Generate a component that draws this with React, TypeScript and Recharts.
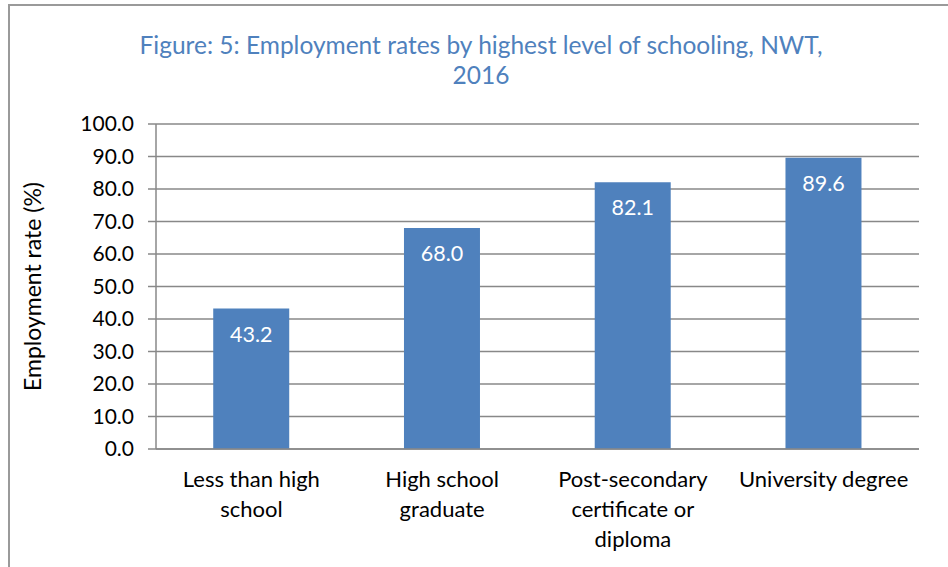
import React from 'react';
import { BarChart, Bar, XAxis, YAxis, CartesianGrid, LabelList } from 'recharts';

const categories = ['Less than high school', 'High school graduate', 'Post-secondary certificate or diploma', 'University degree'];
const categoryLines = [
  ['Less than high', 'school'],
  ['High school', 'graduate'],
  ['Post-secondary', 'certificate or', 'diploma'],
  ['University degree'],
];
const rates = [43.2, 68.0, 82.1, 89.6];
const yTicks = [0, 10, 20, 30, 40, 50, 60, 70, 80, 90, 100];
const boundaryTicks = [0, 1, 2, 3, 4];
const titleLines = ['Figure: 5: Employment rates by highest level of schooling, NWT,', '2016'];
const yLabel = 'Employment rate (%)';

const data = categories.map((c, i) => ({ category: c, rate: rates[i], lines: categoryLines[i] }));

const FONT = 'Lato, "Open Sans", sans-serif';
const GRID = '#888888';
const BLUE = '#4F81BD';

const CategoryTick = (props: any) => {
  const { x, y, payload } = props;
  const idx = categories.indexOf(payload.value);
  const lines = idx >= 0 ? categoryLines[idx] : [payload.value];
  return (
    <text x={x} y={y} textAnchor="middle" fill="#000" fontFamily={FONT} fontSize={22}>
      {lines.map((l, i) => (
        <tspan key={i} x={x} dy={i === 0 ? 30 : 30}>{l}</tspan>
      ))}
    </text>
  );
};

const YLabel = (props: any) => {
  const vb = props.viewBox || {};
  const cx = (vb.x ?? 0) + 32;
  const cy = (vb.y ?? 0) + (vb.height ?? 0) / 2;
  return (
    <text x={cx} y={cy} transform={`rotate(-90 ${cx} ${cy})`} textAnchor="middle" dominantBaseline="central" fontFamily={FONT} fontSize={23} fill="#000">
      {yLabel}
    </text>
  );
};

export default function App() {
  return (
    <div style={{ position: 'absolute', left: 0, top: 0, width: 948, height: 567, overflow: 'hidden', background: '#fff' }}>
      <div style={{ position: 'absolute', left: 8, top: 4, width: 1200, height: 800, border: '2px solid #9a9a9a', boxSizing: 'border-box' }} />
      <div style={{ position: 'absolute', left: 0, top: 30, width: 962, textAlign: 'center', color: BLUE, fontFamily: FONT, fontSize: 24.5, lineHeight: '30px' }}>
        {titleLines.map((t, i) => (<div key={i}>{t}</div>))}
      </div>
      <div style={{ position: 'absolute', left: 0, top: 0 }}>
        <BarChart width={948} height={567} data={data} margin={{ top: 124, right: 29, bottom: 8, left: 0 }} barCategoryGap="30%">
          <CartesianGrid horizontal={true} vertical={false} stroke={GRID} strokeWidth={1.5} />
          <XAxis xAxisId="bounds" type="number" domain={[0, 4]} ticks={boundaryTicks} allowDataOverflow height={0} tick={false} tickLine={{ stroke: GRID, strokeWidth: 1.5 }} tickSize={8} axisLine={false} />
          <XAxis xAxisId="cat" dataKey="category" height={110} tick={<CategoryTick />} tickLine={false} axisLine={{ stroke: GRID, strokeWidth: 1.5 }} interval={0} />
          <YAxis domain={[0, 100]} ticks={yTicks} width={156} tickFormatter={(v: number) => v.toFixed(1)} tick={{ fill: '#000', fontFamily: FONT, fontSize: 21 }} tickSize={8} tickMargin={14} tickLine={{ stroke: GRID, strokeWidth: 1.5 }} axisLine={{ stroke: GRID, strokeWidth: 1.5 }} label={<YLabel />} interval={0} />
          <Bar xAxisId="cat" dataKey="rate" fill={BLUE} isAnimationActive={false}>
            <LabelList dataKey="rate" position="insideTop" offset={18} formatter={(v: any) => Number(v).toFixed(1)} fill="#fff" fontFamily={FONT} fontSize={21.5} />
          </Bar>
        </BarChart>
      </div>
    </div>
  );
}
